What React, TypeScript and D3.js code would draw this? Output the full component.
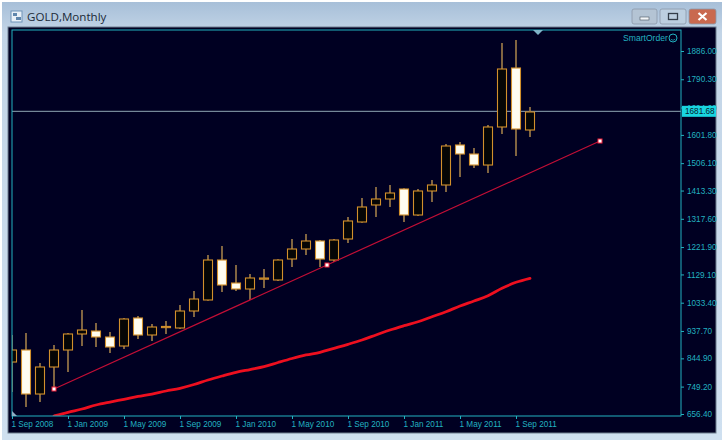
import { useEffect, useRef } from 'react';
import * as d3 from 'd3';

// monthly candles, index 0 = Sep 2008
const opens = [832.5, 873.2, 724.1, 815.6, 873.2, 927.4, 937.5, 917.2, 886.7, 981.6, 924, 949, 947.7, 1005.3, 1042.6, 1178, 1100.1, 1079.8, 1113, 1110.3, 1181.4, 1215.3, 1242.4, 1178, 1249.2, 1306.8, 1364.4, 1384.7, 1418.5, 1330.5, 1411.8, 1432.1, 1567.6, 1537.1, 1499.8, 1628.6, 1828.4, 1618.4];
const highs = [924, 930.8, 829.2, 890.1, 931, 1008.7, 964.6, 934.2, 981.6, 988.4, 961.3, 971.4, 1025.6, 1073, 1195, 1225.5, 1161.1, 1130.6, 1147.6, 1181, 1249.2, 1266.1, 1246, 1249.2, 1323.7, 1388.1, 1425.3, 1432.1, 1421, 1418.5, 1449, 1571, 1577.7, 1557.4, 1635.3, 1913.1, 1923.3, 1696.3];
const lows = [730.9, 680.1, 697, 741.1, 798.7, 886.7, 883.4, 863, 876.6, 910.4, 903.7, 927.4, 944, 985, 1040, 1069.7, 1073, 1042.6, 1083.2, 1106.9, 1154.3, 1195, 1154.3, 1171.3, 1235.6, 1304, 1323.7, 1357.6, 1306.8, 1327, 1374.5, 1408.4, 1459.2, 1489.7, 1472.7, 1604.8, 1530.3, 1594.7];
const closes = [873.2, 724.1, 815.6, 873.2, 927.4, 940.9, 917.2, 883.4, 978.2, 924, 951.1, 953, 1005.3, 1045.9, 1178, 1093.4, 1079.8, 1117.1, 1117, 1178, 1215.3, 1242.4, 1181.4, 1245.8, 1310.2, 1357.6, 1384.7, 1405, 1330.5, 1411.8, 1432.1, 1564.2, 1537.1, 1499.8, 1628.6, 1825, 1621.8, 1679.4];

// thick moving average, starts at candle 3
const maStart = 3;
const maValues = [649.6, 662.2, 673.3, 686.9, 697, 706.2, 715.7, 724.1, 734.3, 743.5, 756.3, 771.6, 785.1, 797.6, 807.1, 816.6, 830.8, 844.4, 856.3, 865.4, 878.9, 892.5, 907.1, 924, 940.9, 955.5, 969, 986, 1002.9, 1022.2, 1039.2, 1057.1, 1082.2, 1102.5, 1116];

// trend line anchors [candle index, price]
const trendPoints: [number, number][] = [[3, 741.1], [22.5, 1161.1], [42, 1581.1]];

const priceTicks = [1886, 1790.3, 1694.6, 1601.8, 1506.1, 1413.3, 1317.6, 1221.9, 1129.1, 1033.4, 937.7, 844.9, 749.2, 656.4];
const timeTicks = [0, 4, 8, 12, 16, 20, 24, 28, 32, 36];
const timeLabels = ['1 Sep 2008', '1 Jan 2009', '1 May 2009', '1 Sep 2009', '1 Jan 2010', '1 May 2010', '1 Sep 2010', '1 Jan 2011', '1 May 2011', '1 Sep 2011'];
const lastPrice = 1681.68;

const W = 724;
const H = 441;
const plot = { left: 12, right: 681, top: 30, bottom: 416 };
const TEAL = '#22b2c0';
const FONT = '"Liberation Sans", Arial, sans-serif';

export default function App() {
  const svgRef = useRef<SVGSVGElement>(null);

  useEffect(() => {
    if (!svgRef.current) return;
    const svg = d3.select(svgRef.current);
    svg.selectAll('*').remove();

    const x = d3.scaleLinear().domain([0, 42]).range([12, 600]);
    const y = d3.scaleLinear().domain([656.4, 1886]).range([414, 51]);

    const defs = svg.append('defs');
    const grad = defs.append('linearGradient').attr('id', 'chrome').attr('x1', 0).attr('x2', 0).attr('y1', 0).attr('y2', 1);
    grad.append('stop').attr('offset', 0).attr('stop-color', '#a7bfd8');
    grad.append('stop').attr('offset', 0.07).attr('stop-color', '#c3d5e7');
    grad.append('stop').attr('offset', 1).attr('stop-color', '#cfe0f0');
    defs.append('clipPath').attr('id', 'plot').append('rect')
      .attr('x', plot.left).attr('y', plot.top)
      .attr('width', plot.right - plot.left).attr('height', plot.bottom - plot.top);

    // Window chrome
    svg.append('rect').attr('width', W).attr('height', H).attr('fill', '#fff');
    svg.append('rect').attr('x', 2).attr('y', 2).attr('width', W - 4).attr('height', H - 3).attr('fill', 'url(#chrome)');
    svg.append('rect').attr('x', 8).attr('y', 27).attr('width', 708).attr('height', 406).attr('fill', '#000022').attr('stroke', '#6f7f8f');

    // Title bar
    const icon = svg.append('g').attr('transform', 'translate(11,11)');
    icon.append('rect').attr('width', 11).attr('height', 11).attr('fill', '#e8f0f8').attr('stroke', '#6f93b8');
    icon.append('rect').attr('x', 2).attr('y', 2).attr('width', 4).attr('height', 3).attr('fill', '#5f86ad');
    icon.append('rect').attr('x', 5).attr('y', 6).attr('width', 5).attr('height', 3).attr('fill', '#5f86ad');
    svg.append('text').attr('x', 27).attr('y', 21).attr('font-family', '"Open Sans", sans-serif').attr('font-size', 11.6)
      .attr('fill', '#1c2a38').text('GOLD,Monthly');

    const buttons = [
      { x: 632, w: 25, fill: '#b4c4d4' },
      { x: 660, w: 26, fill: '#bccfe0' },
      { x: 689, w: 27, fill: '#c9694f' },
    ];
    buttons.forEach((b) => {
      svg.append('rect').attr('x', b.x).attr('y', 9).attr('width', b.w).attr('height', 15).attr('rx', 2)
        .attr('fill', b.fill).attr('stroke', '#8a98a8').attr('stroke-width', 0.8);
    });
    svg.append('rect').attr('x', 640).attr('y', 17).attr('width', 9).attr('height', 3).attr('fill', '#f4f7fa').attr('stroke', '#45505c').attr('stroke-width', 0.6);
    svg.append('rect').attr('x', 668.5).attr('y', 13.5).attr('width', 9).attr('height', 6).attr('fill', 'none').attr('stroke', '#333e4a').attr('stroke-width', 1.3);
    svg.append('path').attr('d', 'M698.5,13L706.5,20M706.5,13L698.5,20').attr('stroke', '#fff').attr('stroke-width', 2.2);

    const chart = svg.append('g').attr('clip-path', 'url(#plot)');

    // Current price line
    chart.append('line').attr('x1', plot.left).attr('x2', plot.right)
      .attr('y1', y(lastPrice)).attr('y2', y(lastPrice))
      .attr('stroke', '#8fa6b4').attr('stroke-width', 1);

    // Candles
    const candles = opens.map((open, i) => ({ i, open, high: highs[i], low: lows[i], close: closes[i] }));
    const groups = chart.selectAll('g.candle').data(candles).enter().append('g').attr('class', 'candle');
    groups.append('line')
      .attr('x1', (d) => x(d.i)).attr('x2', (d) => x(d.i))
      .attr('y1', (d) => y(d.high)).attr('y2', (d) => y(d.low))
      .attr('stroke', '#8f7045').attr('stroke-width', 1.8);
    groups.append('rect')
      .attr('x', (d) => x(d.i) - 4.5).attr('width', 9)
      .attr('y', (d) => y(Math.max(d.open, d.close)))
      .attr('height', (d) => Math.abs(y(d.open) - y(d.close)))
      .attr('fill', (d) => (d.close >= d.open ? '#050505' : '#fffdf0'))
      .attr('stroke', '#d2902c').attr('stroke-width', 1.1);

    // Moving average
    const maLine = d3.line<number>().x((_, i) => x(i + maStart)).y((d) => y(d)).curve(d3.curveMonotoneX);
    chart.append('path').attr('d', maLine(maValues)).attr('fill', 'none')
      .attr('stroke', '#ee0f1f').attr('stroke-width', 2.8).attr('stroke-linecap', 'round');

    // Trend line
    const trendLine = d3.line<[number, number]>().x((d) => x(d[0])).y((d) => y(d[1]));
    chart.append('path').attr('d', trendLine(trendPoints)).attr('fill', 'none')
      .attr('stroke', '#c20e36').attr('stroke-width', 1.2);
    chart.selectAll('rect.anchor').data(trendPoints).enter().append('rect').attr('class', 'anchor')
      .attr('x', (d) => x(d[0]) - 2).attr('y', (d) => y(d[1]) - 2).attr('width', 4).attr('height', 4)
      .attr('fill', '#fff').attr('stroke', '#f0203a').attr('stroke-width', 1);

    // Frame
    svg.append('rect').attr('x', plot.left).attr('y', plot.top)
      .attr('width', plot.right - plot.left).attr('height', plot.bottom - plot.top)
      .attr('fill', 'none').attr('stroke', TEAL).attr('stroke-width', 1);
    svg.append('path').attr('d', `M533,${plot.top}L543,${plot.top}L538,${plot.top + 5}Z`).attr('fill', '#7fb4c8');
    svg.append('path').attr('d', `M${plot.left},${plot.bottom}L${plot.left},${plot.bottom - 5}L${plot.left + 5},${plot.bottom}Z`).attr('fill', '#8fb0c4');

    // Axes
    const yAxis = svg.append('g').attr('transform', `translate(${plot.right},0)`)
      .call(d3.axisRight(y).tickValues(priceTicks).tickSize(3).tickPadding(3).tickFormat(d3.format('.2f') as any));
    const xAxis = svg.append('g').attr('transform', `translate(0,${plot.bottom})`)
      .call(d3.axisBottom(x).tickValues(timeTicks).tickSize(3).tickPadding(3).tickFormat((_, i) => timeLabels[i]));
    [yAxis, xAxis].forEach((axis) => {
      axis.select('.domain').remove();
      axis.selectAll('line').attr('stroke', TEAL);
      axis.selectAll('text').attr('fill', TEAL).attr('font-family', FONT).attr('font-size', 8.2);
    });
    xAxis.selectAll('text').attr('text-anchor', 'start').attr('x', -1).attr('y', 5.5);

    // Current price marker
    svg.append('rect').attr('x', 682).attr('y', y(lastPrice) - 5.5).attr('width', 34).attr('height', 11).attr('fill', '#19d5e0');
    svg.append('text').attr('x', 685).attr('y', y(lastPrice) + 3).attr('font-family', FONT).attr('font-size', 8.2)
      .attr('fill', '#04222c').text(d3.format('.2f')(lastPrice));

    // SmartOrder badge
    svg.append('text').attr('x', 623).attr('y', 41).attr('font-family', FONT).attr('font-size', 8.6)
      .attr('fill', TEAL).text('SmartOrder');
    svg.append('circle').attr('cx', 673).attr('cy', 38).attr('r', 4).attr('fill', 'none').attr('stroke', TEAL);
    svg.append('path').attr('d', 'M670.8,39.2Q673,41.4 675.2,39.2').attr('fill', 'none').attr('stroke', TEAL).attr('stroke-width', 0.7);
  }, []);

  return (
    <svg
      ref={svgRef}
      width={W}
      height={H}
      style={{ position: 'absolute', left: 0, top: 0, display: 'block' }}
    />
  );
}
